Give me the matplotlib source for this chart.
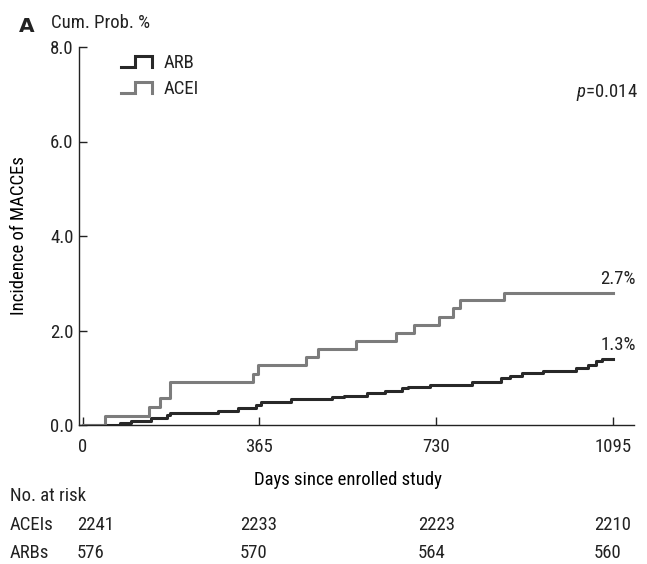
import matplotlib
matplotlib.use('Agg')
import matplotlib.pyplot as plt
from matplotlib import font_manager
from matplotlib.lines import Line2D
from matplotlib.legend_handler import HandlerBase

# Kaplan-Meier style cumulative incidence
acei_days = [0, 45, 136, 159, 180, 352, 362, 462, 486, 564, 648, 684, 737, 764, 780, 871, 1095]
acei_prob = [0, 0.2, 0.39, 0.57, 0.9, 1.07, 1.26, 1.43, 1.6, 1.77, 1.94, 2.12, 2.29, 2.47, 2.64, 2.8, 2.8]

arb_days = [0, 76, 100, 140, 173, 180, 280, 321, 358, 368, 430, 515, 540, 587, 624, 660,
            671, 717, 805, 865, 882, 907, 950, 1020, 1043, 1061, 1072, 1095]
arb_prob = [0, 0.04, 0.09, 0.15, 0.21, 0.26, 0.30, 0.35, 0.42, 0.49, 0.54, 0.59, 0.62, 0.67,
            0.73, 0.78, 0.80, 0.85, 0.92, 0.99, 1.04, 1.09, 1.15, 1.2, 1.27, 1.35, 1.39, 1.39]

x_ticks = [0, 365, 730, 1095]
y_ticks = [0.0, 2.0, 4.0, 6.0, 8.0]

risk_groups = ['ACEIs', 'ARBs']
risk_acei = [2241, 2233, 2223, 2210]
risk_arb = [576, 570, 564, 560]

end_labels = ['2.7%', '1.3%']

grey = '#7c7c7c'
dark = '#282828'

# the original uses a condensed sans; take a narrow one if there is one
fonts = font_manager.fontManager.ttflist
avail = {f.name for f in fonts}
fs = 12.5
family = 'Roboto'
for cand in ['Liberation Sans Narrow', 'DejaVu Sans Condensed', 'Roboto Condensed']:
    if cand in avail:
        family = cand
        fs = 13.5
        break
else:
    if any(f.name == 'DejaVu Sans' and f.stretch == 'condensed' for f in fonts):
        family = 'DejaVu Sans'
        plt.rcParams['font.stretch'] = 'condensed'
        fs = 13
plt.rcParams['font.family'] = [family, 'DejaVu Sans']
plt.rcParams['mathtext.fontset'] = 'custom'
plt.rcParams['mathtext.it'] = family + ':italic'
plt.rcParams['text.color'] = '#222222'

W, H = 647, 564


def fx(px):
    return px / W


def fy(py):
    return 1 - py / H


class StepHandler(HandlerBase):
    # legend key drawn as a little step
    def create_artists(self, legend, orig_handle, xdescent, ydescent,
                       width, height, fontsize, trans):
        x0 = -xdescent
        y0 = -ydescent
        xs = [x0, x0 + 0.45 * width, x0 + 0.45 * width, x0 + width, x0 + width]
        ys = [y0 + 0.05 * height, y0 + 0.05 * height, y0 + 0.95 * height,
              y0 + 0.95 * height, y0 + 0.05 * height]
        line = Line2D(xs, ys, color=orig_handle.get_color(),
                      lw=orig_handle.get_linewidth(), solid_joinstyle='miter')
        line.set_transform(trans)
        return [line]


fig = plt.figure(figsize=(W / 100, H / 100), dpi=100)
ax = fig.add_axes([fx(79), fy(425), (634 - 79) / W, (425 - 47) / H])

l_arb, = ax.step(arb_days, arb_prob, where='post', color=dark, lw=2.2, label='ARB')
l_acei, = ax.step(acei_days, acei_prob, where='post', color=grey, lw=2.2, label='ACEI')

ax.set_xlim(-8, 1139)
ax.set_ylim(0, 8)
ax.set_xticks(x_ticks)
ax.set_yticks(y_ticks)
ax.set_yticklabels([f'{v:.1f}' for v in y_ticks])
ax.tick_params(direction='in', length=6, width=1, labelsize=fs, colors='#222222', pad=4)
ax.tick_params(axis='x', pad=9)
for s in ['top', 'right']:
    ax.spines[s].set_visible(False)
for s in ['left', 'bottom']:
    ax.spines[s].set_linewidth(1)
    ax.spines[s].set_color('#222222')

ax.set_xlabel('Days since enrolled study', fontsize=fs, va='baseline')
ax.xaxis.set_label_coords((347.5 - 79) / (634 - 79), -(485 - 425) / 378)
ax.set_ylabel('Incidence of MACCEs', fontsize=fs, va='center')
ax.yaxis.set_label_coords(-(79 - 19) / (634 - 79), 0.5)

leg = ax.legend(handles=[l_arb, l_acei], handler_map={Line2D: StepHandler()},
                loc='upper left', bbox_to_anchor=(fx(121), fy(54)),
                bbox_transform=fig.transFigure, frameon=False, fontsize=fs,
                handlelength=1.65, handleheight=0.65, handletextpad=0.62,
                labelspacing=0.42, borderpad=0, borderaxespad=0)

fig.text(fx(638), fy(97), '$p$=0.014', ha='right', va='baseline', fontsize=fs)

fig.text(fx(19), fy(32), 'A', fontsize=14.5, fontweight='bold', va='baseline',
         family='DejaVu Sans')
fig.text(fx(51), fy(27.5), 'Cum. Prob. %', fontsize=fs, va='baseline')

# percentages at the end of the curves
ax.text(1070, acei_prob[-1] + 0.19, end_labels[0], ha='left', va='baseline', fontsize=fs)
ax.text(1070, arb_prob[-1] + 0.19, end_labels[1], ha='left', va='baseline', fontsize=fs)

# number at risk table
fig.text(fx(10), fy(501), 'No. at risk', fontsize=fs, va='baseline')
col_x = [77, 240, 418, 594]
row_y = [530, 558]
for r, (name, vals) in enumerate(zip(risk_groups, [risk_acei, risk_arb])):
    fig.text(fx(10), fy(row_y[r]), name, fontsize=fs, va='baseline')
    for cx, v in zip(col_x, vals):
        fig.text(fx(cx), fy(row_y[r]), str(v), fontsize=fs, va='baseline')

fig.savefig('out.png', dpi=100)
